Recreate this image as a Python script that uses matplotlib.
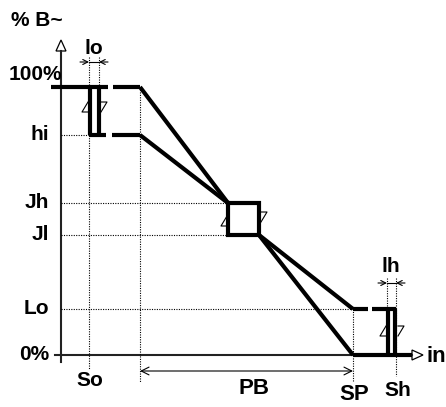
import matplotlib
matplotlib.use('Agg')
import matplotlib.pyplot as plt

# schematic levels (y, in pixel-like units, top = 0)
level_labels = ['100%', 'hi', 'Jh', 'Jl', 'Lo', '0%']
level_y = [87, 135, 203, 235, 309, 355]
y_full, y_hi, y_jh, y_jl, y_lo, y_zero = level_y

# key positions along the input axis
x_axis = 61
x_so = 89
x_so_lo = 99
x_pb = 140
x_box = [228, 259]
x_sp = 353
x_sh_lh = 387
x_sh = 396
x_end = 412

plt.rcParams['font.family'] = ['Liberation Sans', 'DejaVu Sans']
plt.rcParams['font.weight'] = 'bold'

fig = plt.figure(figsize=(4.46, 4.07), dpi=100)
ax = fig.add_axes([0, 0, 1, 1])
ax.set_xlim(0, 446)
ax.set_ylim(407, 0)
ax.axis('off')

thick = dict(color='black', lw=3.0, solid_capstyle='butt')
dot = dict(color='black', lw=0.8, ls=(0, (1, 1.2)))
thin = dict(color='black', lw=0.8)

# axes
ax.plot([x_axis, x_axis], [362, 51], color='#222222', lw=1.5)
ax.plot([55, x_end], [y_zero, y_zero], color='#222222', lw=1.5)
ax.fill([x_axis - 5, x_axis + 5, x_axis], [51, 51, 40], fc='white', ec='black', lw=0.9)
ax.fill([x_end, x_end, x_end + 11], [y_zero - 5, y_zero + 5, y_zero], fc='white', ec='black', lw=0.9)

# dotted guides
ax.plot([x_axis, x_so], [y_hi, y_hi], **dot)
ax.plot([x_axis, x_box[0]], [y_jh, y_jh], **dot)
ax.plot([x_axis, x_box[0]], [y_jl, y_jl], **dot)
ax.plot([x_axis, x_sp], [y_lo, y_lo], **dot)
ax.plot([x_so, x_so], [57, 369], **dot)
ax.plot([x_so_lo, x_so_lo], [57, y_full], **dot)
ax.plot([x_pb, x_pb], [y_full, 382], **dot)
ax.plot([x_sp, x_sp], [y_lo, 382], **dot)
ax.plot([x_sh_lh, x_sh_lh], [278, y_lo], **dot)
ax.plot([x_sh, x_sh], [278, 376], **dot)

# top plateau (100% and hi) with breaks
ax.plot([51, 108], [y_full, y_full], **thick)
ax.plot([113, x_pb], [y_full, y_full], **thick)
ax.plot([x_so, 106], [y_hi, y_hi], **thick)
ax.plot([112, x_pb], [y_hi, y_hi], **thick)
ax.plot([x_so + 1, x_so + 1], [y_full, y_hi], **thick)
ax.plot([x_so_lo, x_so_lo], [y_full, y_hi - 2], **thick)

# sloping lines and middle box
ax.plot([x_pb, x_box[0]], [y_full, y_jh], **thick)
ax.plot([x_pb, x_box[0]], [y_hi, y_jh], **thick)
ax.plot([x_box[1], x_sp], [y_jl, y_zero], **thick)
ax.plot([x_box[1], x_sp], [y_jl, y_lo], **thick)
ax.plot([x_box[0], x_box[1], x_box[1], x_box[0], x_box[0]],
        [y_jh, y_jh, y_jl, y_jl, y_jh], color='black', lw=3.0, solid_joinstyle='miter')

# bottom plateau (Lo and 0%) with breaks
ax.plot([x_sp, 368], [y_lo, y_lo], **thick)
ax.plot([372, x_sh], [y_lo, y_lo], **thick)
ax.plot([x_sp, x_end], [y_zero, y_zero], **thick)
ax.plot([x_sh_lh + 1, x_sh_lh + 1], [y_lo, y_zero], **thick)
ax.plot([x_sh - 1, x_sh - 1], [y_lo, y_zero], **thick)


# small hysteresis direction marks
def up_mark(x, y):
    ax.plot([x, x - 6, x], [y - 6, y + 4, y + 4], **thin)


def down_mark(x, y):
    ax.plot([x, x + 6, x], [y + 6, y - 4, y - 4], **thin)


up_mark(x_so - 1, 108)
down_mark(x_so_lo + 2, 106)
up_mark(x_box[0] - 1, 222)
down_mark(x_box[1] + 2, 216)
up_mark(x_sh_lh - 1, 332)
down_mark(x_sh + 2, 330)

# lo / lh brackets and PB arrow
arr = dict(arrowstyle='->', color='black', lw=0.8, shrinkA=0, shrinkB=0, mutation_scale=9)
for xa, xb, yb in [(x_so, x_so_lo, 62), (x_sh_lh, x_sh, 283)]:
    ax.plot([xa, xb], [yb, yb], **thin)
    ax.annotate('', xy=(xa, yb), xytext=(xa - 9, yb), arrowprops=arr)
    ax.annotate('', xy=(xb, yb), xytext=(xb + 9, yb), arrowprops=arr)
ax.annotate('', xy=(x_pb, 371), xytext=(x_sp, 371),
            arrowprops=dict(arrowstyle='<->', color='black', lw=0.8,
                            shrinkA=0, shrinkB=0, mutation_scale=14))

# texts
fs = 15
fb = 16
ax.text(11, 21, '% B~', fontsize=15, fontweight='bold', ha='left', va='center')
ax.text(62, 75, '100%', fontsize=fs, fontweight='bold', ha='right', va='center')
for lab, y in zip(level_labels[1:], level_y[1:]):
    ax.text(49, y, lab, fontsize=fs, fontweight='bold', ha='right', va='center')
ax.text(94, 49, 'lo', fontsize=fs, fontweight='bold', ha='center', va='center')
ax.text(391, 266, 'lh', fontsize=fs, fontweight='bold', ha='center', va='center')
ax.text(90, 380, 'So', fontsize=fs, fontweight='bold', ha='center', va='center')
ax.text(254, 389, 'PB', fontsize=fb, fontweight='bold', ha='center', va='center')
ax.text(354, 395, 'SP', fontsize=fb, fontweight='bold', ha='center', va='center')
ax.text(398, 390, 'Sh', fontsize=fs, fontweight='bold', ha='center', va='center')
ax.text(426, 356, 'in', fontsize=fb, fontweight='bold', ha='left', va='center')

fig.savefig('out.png', dpi=100)
